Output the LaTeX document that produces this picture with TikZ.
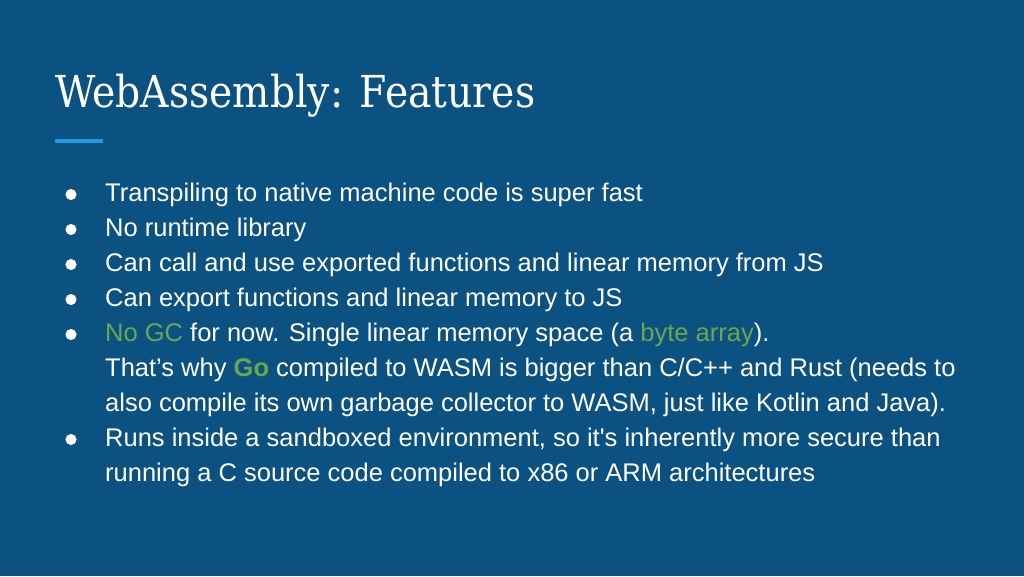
\documentclass[tikz,border=0pt]{standalone}
\usepackage{fontspec}
\setmainfont{Liberation Sans}
\newfontfamily\bodyfont{Liberation Sans}
\newfontfamily\titlefont{DejaVu Serif}
\usepackage{graphicx}
\definecolor{bgblue}{HTML}{0B5182}
\definecolor{accgreen}{HTML}{6AA84F}
\definecolor{barblue}{HTML}{1E9BE5}
\begin{document}
\begin{tikzpicture}[x=1pt,y=-1pt,
  bodytext/.style={anchor=base west,inner sep=0pt,text=white,font=\bodyfont\fontsize{25.5}{30}\selectfont},
  bulletdot/.style={circle,fill=white,draw=white,line width=0.5pt,inner sep=0pt,minimum size=10.5pt}]
\fill[bgblue] (0,0) rectangle (1024,576);
\useasboundingbox (0,0) rectangle (1024,576);
\node[anchor=base west,inner sep=0pt,text=white] (title) at (55,107)
  {\resizebox{480pt}{\height}{\fontsize{44}{50}\titlefont WebAssembly: Features}};
\fill[barblue] (55,139) rectangle (103,143);
% bullets
\foreach \n/\y in {b1/201,b2/236,b3/271,b4/306,b5/341,b6/446}
  \node[bulletdot] (\n) at (71,\y-6.5) {};
\node[bodytext] (l1) at (105,201) {Transpiling to native machine code is super fast};
\node[bodytext] (l2) at (105,236) {No runtime library};
\node[bodytext] (l3) at (105,271) {Can call and use exported functions and linear memory from JS};
\node[bodytext] (l4) at (105,306) {Can export functions and linear memory to JS};
\node[bodytext] (l5) at (105,341) {\textcolor{accgreen}{No GC} for now. Single linear memory space (a \textcolor{accgreen}{byte array}).};
\node[bodytext] (l6) at (105,376) {That’s why \textcolor{accgreen}{\textbf{Go}} compiled to WASM is bigger than C/C++ and Rust (needs to};
\node[bodytext] (l7) at (105,411) {also compile its own garbage collector to WASM, just like Kotlin and Java).};
\node[bodytext] (l8) at (105,446) {Runs inside a sandboxed environment, so it's inherently more secure than};
\node[bodytext] (l9) at (105,481) {running a C source code compiled to x86 or ARM architectures};
\end{tikzpicture}
\end{document}
